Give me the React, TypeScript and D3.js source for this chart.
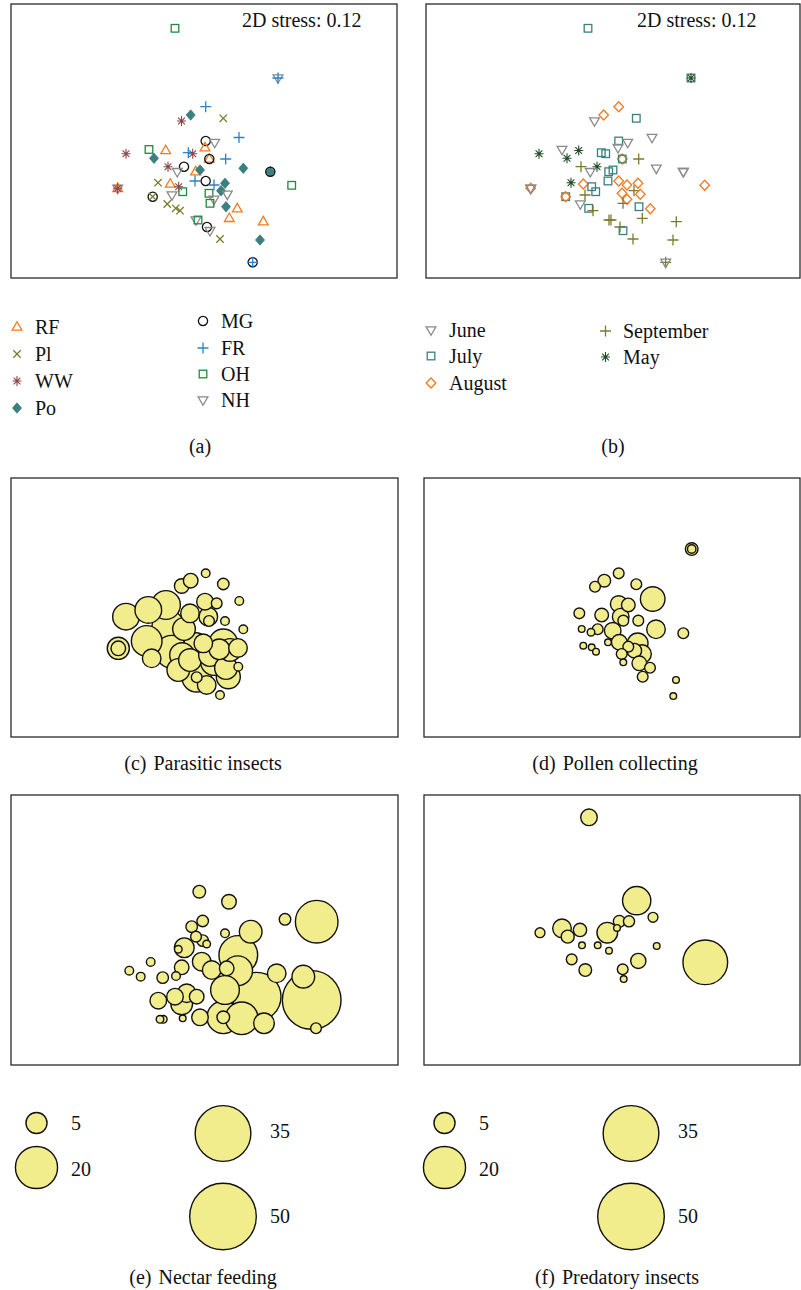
import React from "react";
import * as d3 from "d3";

// NMDS configuration of the samples: [NMDS1, NMDS2, habitat, month]
const samples: [number, number, string, string][] = [
  [-0.29, 1.127, "OH", "July"],
  [0.74, 0.63, "NH", "July"],
  [0.74, 0.63, "FR", "May"],
  [0.017, 0.343, "FR", "August"],
  [-0.133, 0.26, "Po", "August"],
  [-0.225, 0.2, "WW", "June"],
  [0.193, 0.227, "Pl", "July"],
  [0.35, 0.035, "FR", "June"],
  [0.017, 0.0, "MG", "July"],
  [0.107, -0.015, "NH", "June"],
  [-0.55, -0.085, "OH", "June"],
  [-0.383, -0.095, "RF", "May"],
  [0.01, -0.067, "RF", "June"],
  [-0.157, -0.117, "FR", "July"],
  [-0.113, -0.127, "WW", "July"],
  [-0.78, -0.127, "WW", "May"],
  [-0.5, -0.173, "Po", "May"],
  [0.053, -0.18, "RF", "August"],
  [0.053, -0.18, "MG", "July"],
  [0.217, -0.18, "FR", "September"],
  [-0.36, -0.257, "WW", "September"],
  [-0.2, -0.257, "MG", "May"],
  [-0.267, -0.307, "NH", "June"],
  [-0.083, -0.307, "RF", "July"],
  [-0.04, -0.29, "Po", "July"],
  [0.393, -0.273, "Po", "June"],
  [0.663, -0.307, "Po", "June"],
  [0.663, -0.307, "MG", "June"],
  [0.877, -0.443, "OH", "August"],
  [-0.863, -0.473, "NH", "June"],
  [-0.863, -0.473, "RF", "August"],
  [-0.863, -0.473, "WW", "June"],
  [-0.46, -0.417, "Pl", "May"],
  [-0.337, -0.43, "RF", "August"],
  [-0.09, -0.4, "FR", "July"],
  [0.017, -0.4, "MG", "August"],
  [-0.253, -0.457, "WW", "July"],
  [0.1, -0.44, "FR", "August"],
  [0.21, -0.423, "Po", "August"],
  [0.17, -0.497, "Po", "September"],
  [-0.213, -0.507, "OH", "July"],
  [-0.32, -0.54, "NH", "September"],
  [0.05, -0.523, "OH", "August"],
  [0.233, -0.533, "NH", "August"],
  [0.1, -0.583, "NH", "August"],
  [0.06, -0.623, "OH", "September"],
  [-0.513, -0.557, "MG", "July"],
  [-0.513, -0.557, "Pl", "August"],
  [-0.367, -0.63, "Pl", "June"],
  [-0.283, -0.673, "Pl", "July"],
  [-0.24, -0.697, "Pl", "September"],
  [0.22, -0.657, "Po", "July"],
  [0.333, -0.677, "RF", "August"],
  [0.253, -0.773, "RF", "September"],
  [0.593, -0.807, "RF", "September"],
  [-0.08, -0.79, "NH", "September"],
  [-0.06, -0.79, "OH", "September"],
  [0.03, -0.86, "MG", "September"],
  [0.06, -0.897, "NH", "July"],
  [0.16, -0.98, "Pl", "September"],
  [0.56, -0.99, "Po", "September"],
  [0.487, -1.213, "MG", "September"],
  [0.487, -1.213, "FR", "June"],
];

const habitats = ["RF", "Pl", "WW", "Po", "MG", "FR", "OH", "NH"];
const months = ["June", "July", "August", "September", "May"];

// Abundance bubbles per functional group: [NMDS1, NMDS2, abundance]
const parasitic: [number, number, number][] = [
  [-0.857, -0.465, 5.5], [-0.857, -0.465, 2.4],
  [-0.78, -0.116, 8.0], [-0.557, -0.042, 8.0], [-0.38, 0.013, 9.3],
  [-0.357, -0.227, 12.0], [-0.323, -0.502, 12.0], [-0.223, 0.222, 2.4],
  [-0.133, 0.281, 2.4], [0.017, 0.362, 0.84], [0.193, 0.244, 1.5],
  [0.353, 0.057, 0.84], [0.393, -0.255, 0.84], [0.21, -0.164, 0.84],
  [0.01, 0.049, 3.1], [0.127, 0.031, 1.3], [-0.14, -0.079, 3.9],
  [0.043, -0.116, 3.9], [0.05, -0.164, 1.3], [0.193, -0.41, 9.3],
  [0.153, -0.476, 4.8], [-0.007, -0.41, 3.9], [0.243, -0.778, 6.5],
  [-0.073, -0.784, 9.9], [-0.073, -0.784, 1.3], [0.027, -0.869, 3.9],
  [0.16, -0.98, 0.84], [-0.523, -0.575, 3.9], [-0.573, -0.384, 10.6],
  [-0.257, -0.704, 5.8], [0.343, -0.668, 0.84], [-0.14, -0.594, 5.8],
  [0.06, -0.539, 5.8], [-0.2, -0.252, 5.8], [-0.08, -0.428, 6.8],
  [-0.22, -0.539, 6.8], [0.1, -0.616, 8.0], [0.22, -0.682, 5.8],
  [0.26, -0.483, 5.8], [0.34, -0.461, 3.9],
];

const pollen: [number, number, number][] = [
  [0.747, 0.63, 1.8], [0.747, 0.63, 0.8], [-0.127, 0.281, 1.8],
  [-0.22, 0.214, 1.3], [0.017, 0.362, 1.3], [0.193, 0.241, 1.3],
  [0.357, 0.079, 6.8], [-0.377, -0.079, 1.3], [-0.153, -0.098, 2.1],
  [0.017, 0.024, 3.1], [0.113, 0.013, 2.1], [0.037, -0.116, 3.1],
  [0.063, -0.16, 1.3], [0.213, -0.16, 1.3], [-0.353, -0.252, 0.5],
  [-0.26, -0.288, 0.65], [-0.193, -0.255, 1.3], [-0.043, -0.271, 3.1],
  [0.39, -0.255, 3.9], [0.663, -0.299, 1.3], [-0.09, -0.399, 0.5],
  [0.023, -0.399, 2.75], [0.207, -0.41, 4.8], [-0.337, -0.436, 0.5],
  [-0.253, -0.454, 0.5], [-0.21, -0.502, 0.5], [0.113, -0.447, 1.3],
  [0.173, -0.491, 2.4], [0.25, -0.528, 3.9], [0.047, -0.528, 1.3],
  [0.063, -0.619, 0.5], [0.223, -0.63, 2.4], [0.33, -0.679, 1.3],
  [0.257, -0.778, 1.3], [0.59, -0.814, 0.5], [0.563, -0.991, 0.5],
];

const nectar: [number, number, number][] = [
  [-0.047, 0.347, 1.8], [0.25, 0.236, 2.4], [1.127, 0.016, 20.5],
  [0.81, 0.042, 1.5], [-0.013, 0.024, 1.5], [-0.123, -0.039, 1.5],
  [0.467, -0.094, 5.8], [0.21, -0.112, 0.84], [-0.08, -0.149, 1.3],
  [-0.013, -0.193, 1.5], [0.027, -0.23, 0.65], [-0.197, -0.271, 4.4],
  [-0.257, -0.288, 0.65], [0.343, -0.351, 16.9], [-0.023, -0.425, 3.9],
  [-0.223, -0.487, 2.4], [-0.533, -0.428, 0.84], [-0.747, -0.524, 0.84],
  [-0.633, -0.59, 0.84], [-0.413, -0.601, 1.5], [-0.28, -0.583, 0.84],
  [0.337, -0.524, 9.9], [0.077, -0.517, 3.9], [0.227, -0.498, 2.4],
  [0.527, -0.811, 26.6], [1.077, -0.847, 38.8], [0.21, -0.737, 9.3],
  [-0.173, -0.773, 3.9], [-0.457, -0.855, 3.1], [-0.223, -0.891, 5.3],
  [-0.29, -0.811, 3.1], [-0.04, -1.038, 3.1], [0.193, -1.038, 12.0],
  [0.193, -1.038, 1.8], [0.377, -1.049, 12.0], [0.6, -1.104, 4.8],
  [0.993, -0.59, 5.8], [1.12, -1.159, 1.3], [-0.407, -1.06, 0.65],
  [-0.44, -1.06, 0.65], [-0.213, -1.049, 0.5], [0.727, -0.553, 3.9],
  [-0.073, -0.811, 2.4],
];

const predatory: [number, number, number][] = [
  [-0.28, 1.167, 3.1], [0.197, 0.248, 9.0], [0.36, 0.064, 1.1],
  [0.12, 0.02, 1.4], [0.023, 0.02, 1.6], [0.0, -0.053, 0.5],
  [-0.097, -0.105, 4.8], [-0.55, -0.057, 3.9], [-0.493, -0.149, 1.9],
  [-0.37, -0.075, 2.0], [-0.77, -0.105, 1.1], [-0.35, -0.244, 0.5],
  [-0.193, -0.244, 0.5], [-0.08, -0.304, 0.5], [0.397, -0.252, 0.5],
  [-0.453, -0.399, 1.3], [-0.317, -0.517, 1.8], [0.057, -0.509, 1.3],
  [0.067, -0.616, 0.5], [0.213, -0.417, 2.6], [0.883, -0.432, 22.5],
];

const bubbleKey = [5, 20, 35, 50];

const FONT = "'Liberation Serif', 'Times New Roman', serif";
const BUBBLE_FILL = "#f1ec8c";

type Shape = "triUp" | "triDown" | "cross" | "plus" | "star" | "diamondFilled" | "diamond" | "circle" | "square";

const habitatStyle: Record<string, { shape: Shape; color: string }> = {
  RF: { shape: "triUp", color: "#f47b20" },
  Pl: { shape: "cross", color: "#7b7b2e" },
  WW: { shape: "star", color: "#8b4646" },
  Po: { shape: "diamondFilled", color: "#3b7f7f" },
  MG: { shape: "circle", color: "#111111" },
  FR: { shape: "plus", color: "#2b82c6" },
  OH: { shape: "square", color: "#1f8b3e" },
  NH: { shape: "triDown", color: "#8a8a8a" },
};

const monthStyle: Record<string, { shape: Shape; color: string }> = {
  June: { shape: "triDown", color: "#8a8a8a" },
  July: { shape: "square", color: "#3b7f7f" },
  August: { shape: "diamond", color: "#f47b20" },
  September: { shape: "plus", color: "#7b7b2e" },
  May: { shape: "star", color: "#1f4d24" },
};

function Marker({ shape, color, x, y }: { shape: Shape; color: string; x: number; y: number }) {
  const sw = 1.3;
  const common = { fill: "none", stroke: color, strokeWidth: sw };
  let el: React.ReactNode = null;
  switch (shape) {
    case "triUp":
      el = <path d="M0,-5.3L4.9,3.2L-4.9,3.2Z" {...common} />;
      break;
    case "triDown":
      el = <path d="M0,5.3L4.9,-3.2L-4.9,-3.2Z" {...common} />;
      break;
    case "cross":
      el = <path d="M-3.7,-3.7L3.7,3.7M-3.7,3.7L3.7,-3.7" {...common} />;
      break;
    case "plus":
      el = <path d="M-5.5,0H5.5M0,-5.5V5.5" {...common} />;
      break;
    case "star":
      el = <path d="M0,-5V5M-4.5,0H4.5M-3.4,-3.4L3.4,3.4M-3.4,3.4L3.4,-3.4" {...common} strokeWidth={1.1} />;
      break;
    case "diamondFilled":
      el = <path d="M0,-5.2L4.5,0L0,5.2L-4.5,0Z" fill={color} stroke={color} strokeWidth={0.8} />;
      break;
    case "diamond":
      el = <path d="M0,-5L4.8,0L0,5L-4.8,0Z" {...common} />;
      break;
    case "circle":
      el = <circle r={4.6} {...common} />;
      break;
    case "square":
      el = <rect x={-3.8} y={-3.8} width={7.6} height={7.6} {...common} />;
      break;
  }
  return <g transform={`translate(${x},${y})`}>{el}</g>;
}

// shared ordination scales (scatter panels)
const ordX = d3.scaleLinear().domain([-1.93, 1.93]).range([0, 386]);
const ordY = d3.scaleLinear().domain([-1.37, 1.37]).range([274, 0]);
// bubble panels use a slightly shorter plotting region
const bubX = d3.scaleLinear().domain([-1.93, 1.93]).range([0, 386]);
const bubY = d3.scaleLinear().domain([-1.37, 1.37]).range([252.4, 3.9]);
const radius = d3.scaleSqrt().domain([0, 50]).range([0, 33.3]);

function Frame({ x, y, w, h }: { x: number; y: number; w: number; h: number }) {
  return <rect x={x} y={y} width={w} height={h} fill="none" stroke="#2a2a2a" strokeWidth={1.3} />;
}

function ScatterPanel({ ox, oy, by }: { ox: number; oy: number; by: "habitat" | "month" }) {
  return (
    <g transform={`translate(${ox},${oy})`}>
      {samples.map((s, i) => {
        const st = by === "habitat" ? habitatStyle[s[2]] : monthStyle[s[3]];
        return <Marker key={i} shape={st.shape} color={st.color} x={ordX(s[0])} y={ordY(s[1])} />;
      })}
    </g>
  );
}

function BubblePanel({ ox, oy, data }: { ox: number; oy: number; data: [number, number, number][] }) {
  const sorted = [...data].sort((a, b) => b[2] - a[2]);
  return (
    <g transform={`translate(${ox},${oy})`}>
      {sorted.map((d, i) => (
        <circle key={i} cx={bubX(d[0])} cy={bubY(d[1])} r={radius(d[2])} fill={BUBBLE_FILL} stroke="#111" strokeWidth={1.4} />
      ))}
    </g>
  );
}

function BubbleKey({ ox }: { ox: number }) {
  const pos = [
    { cx: 36.5, cy: 1123, tx: 71, ty: 1130 },
    { cx: 36.5, cy: 1167.5, tx: 71, ty: 1176 },
    { cx: 223, cy: 1133.5, tx: 270, ty: 1138 },
    { cx: 223, cy: 1216.5, tx: 270, ty: 1223 },
  ];
  return (
    <g transform={`translate(${ox},0)`}>
      {bubbleKey.map((v, i) => (
        <g key={v}>
          <circle cx={pos[i].cx} cy={pos[i].cy} r={radius(v)} fill={BUBBLE_FILL} stroke="#111" strokeWidth={1.4} />
          <text x={pos[i].tx} y={pos[i].ty} fontSize={20} fontFamily={FONT} fill="#111">{v}</text>
        </g>
      ))}
    </g>
  );
}

function Caption({ x, y, tag, label }: { x: number; y: number; tag: string; label?: string }) {
  return (
    <text x={x} y={y} textAnchor="middle" fontSize={20} fontFamily={FONT} fill="#111">
      {tag}
      {label ? <tspan dx={7}>{label}</tspan> : null}
    </text>
  );
}

export default function App() {
  const habitatCols = [habitats.slice(0, 4), habitats.slice(4)];
  const habitatLayout = [
    { mx: 17, tx: 35, ys: [327, 354, 381, 408] },
    { mx: 203, tx: 221, ys: [321, 348, 374, 400] },
  ];
  const monthCols = [months.slice(0, 3), months.slice(3)];
  const monthLayout = [
    { mx: 431, tx: 449, ys: [330, 356, 383] },
    { mx: 605.5, tx: 623, ys: [331, 357] },
  ];
  return (
    <svg
      width={801}
      height={1290}
      style={{ position: "absolute", left: 0, top: 0, background: "#fff" }}
      fontFamily={FONT}
    >
      <rect width={801} height={1290} fill="#fff" />

      {/* (a) habitats */}
      <Frame x={11} y={4} w={386} h={274} />
      <ScatterPanel ox={11} oy={4} by="habitat" />
      <text x={242} y={27} fontSize={20} fill="#111">2D stress: 0.12</text>

      {/* (b) months */}
      <Frame x={426} y={4} w={374} h={274} />
      <ScatterPanel ox={424} oy={4} by="month" />
      <text x={637} y={27} fontSize={20} fill="#111">2D stress: 0.12</text>

      {habitatCols.map((col, c) =>
        col.map((h, i) => (
          <g key={h}>
            <Marker shape={habitatStyle[h].shape} color={habitatStyle[h].color} x={habitatLayout[c].mx} y={habitatLayout[c].ys[i]} />
            <text x={habitatLayout[c].tx} y={habitatLayout[c].ys[i] + 6.5} fontSize={20} fill="#111">{h}</text>
          </g>
        ))
      )}
      {monthCols.map((col, c) =>
        col.map((m, i) => (
          <g key={m}>
            <Marker shape={monthStyle[m].shape} color={monthStyle[m].color} x={monthLayout[c].mx} y={monthLayout[c].ys[i]} />
            <text x={monthLayout[c].tx} y={monthLayout[c].ys[i] + 6.5} fontSize={20} fill="#111">{m}</text>
          </g>
        ))
      )}
      <Caption x={200} y={453} tag="(a)" />
      <Caption x={613} y={453} tag="(b)" />

      {/* (c)–(f) functional groups */}
      <Frame x={11} y={478} w={387} h={259} />
      <BubblePanel ox={11} oy={478} data={parasitic} />
      <Frame x={424} y={478} w={376} h={259} />
      <BubblePanel ox={424} oy={478} data={pollen} />
      <Caption x={203} y={770} tag="(c)" label="Parasitic insects" />
      <Caption x={615} y={770} tag="(d)" label="Pollen collecting" />

      <Frame x={11} y={795} w={387} h={270} />
      <BubblePanel ox={11} oy={795} data={nectar} />
      <Frame x={424} y={795} w={376} h={270} />
      <BubblePanel ox={424} oy={795} data={predatory} />

      <BubbleKey ox={0} />
      <BubbleKey ox={408} />
      <Caption x={203} y={1284} tag="(e)" label="Nectar feeding" />
      <Caption x={617} y={1284} tag="(f)" label="Predatory insects" />
    </svg>
  );
}
